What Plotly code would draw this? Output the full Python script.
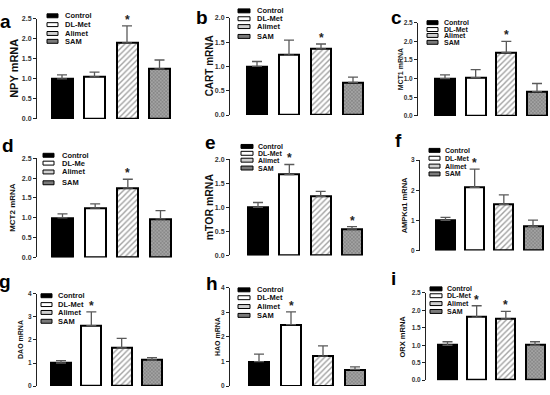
import plotly.graph_objects as go

W, H = 550, 395

groups = ["Control", "DL-Met", "Alimet", "SAM"]
panel_letters = ["a", "b", "c", "d", "e", "f", "g", "h", "i"]
y_titles = ["NPY mRNA", "CART mRNA", "MCT1 mRNA", "MCT2 mRNA", "mTOR mRNA",
            "AMPKα1 mRNA", "DAO mRNA", "HAO mRNA", "ORX mRNA"]

npy_mean = [1.00, 1.05, 1.90, 1.25]
npy_sem = [0.10, 0.12, 0.42, 0.22]
npy_sig = [0, 0, 1, 0]

cart_mean = [1.00, 1.23, 1.36, 0.67]
cart_sem = [0.10, 0.31, 0.10, 0.11]
cart_sig = [0, 0, 1, 0]

mct1_mean = [1.00, 1.03, 1.70, 0.65]
mct1_sem = [0.10, 0.21, 0.30, 0.22]
mct1_sig = [0, 0, 1, 0]

mct2_mean = [1.00, 1.24, 1.75, 0.97]
mct2_sem = [0.10, 0.11, 0.22, 0.21]
mct2_sig = [0, 0, 1, 0]

mtor_mean = [1.00, 1.68, 1.23, 0.55]
mtor_sem = [0.10, 0.21, 0.10, 0.05]
mtor_sig = [0, 1, 0, 1]

ampk_mean = [1.00, 2.10, 1.53, 0.80]
ampk_sem = [0.10, 0.60, 0.32, 0.21]
ampk_sig = [0, 1, 0, 0]

dao_mean = [1.00, 2.62, 1.65, 1.13]
dao_sem = [0.10, 0.60, 0.42, 0.10]
dao_sig = [0, 1, 0, 0]

hao_mean = [1.00, 2.50, 1.22, 0.68]
hao_sem = [0.30, 0.52, 0.42, 0.10]
hao_sig = [0, 1, 0, 0]

orx_mean = [1.00, 1.80, 1.75, 1.00]
orx_sem = [0.10, 0.33, 0.22, 0.10]
orx_sig = [0, 1, 1, 0]

legend_labels = [groups, groups, groups, ["Control", "DL-Me", "Alimet", "SAM"],
                 groups, groups, groups, groups, groups]

y_max = [2.5, 2.0, 2.5, 2.5, 2.0, 3, 4, 4, 2.5]
y_dtick = [0.5, 0.5, 0.5, 0.5, 0.5, 1, 1, 1, 0.5]
y_fmt = [".1f", ".1f", ".1f", ".1f", ".1f", "d", "d", "d", ".1f"]

series = [
    (npy_mean, npy_sem, npy_sig), (cart_mean, cart_sem, cart_sig),
    (mct1_mean, mct1_sem, mct1_sig), (mct2_mean, mct2_sem, mct2_sig),
    (mtor_mean, mtor_sem, mtor_sig), (ampk_mean, ampk_sem, ampk_sig),
    (dao_mean, dao_sem, dao_sig), (hao_mean, hao_sem, hao_sig),
    (orx_mean, orx_sem, orx_sig),
]

# layout geometry in pixels
geo = [
    dict(ax=37, c0=62, c3=159.5, bw=21, y0=117, yt=15, lab_x=14, lab_fs=11, let=(5, 18),
         sw=(47, 58), tx=63, rows=[12, 21, 30, 38], lfs=7.5, tfs=7),
    dict(ax=230, c0=257, c3=353, bw=20, y0=113, yt=14, lab_x=209, lab_fs=10, let=(202, 14),
         sw=(238, 250), tx=255, rows=[7, 15, 23, 33], lfs=7.5, tfs=7),
    dict(ax=418, c0=445, c3=537, bw=20, y0=114, yt=19, lab_x=400, lab_fs=7, let=(396, 14),
         sw=(427, 438), tx=442, rows=[19, 26, 32, 39], lfs=7, tfs=6.5),
    dict(ax=37, c0=62.5, c3=160.5, bw=21, y0=258, yt=157, lab_x=13, lab_fs=8, let=(8, 144),
         sw=(43, 54), tx=60, rows=[154, 162, 171, 182], lfs=7.5, tfs=7),
    dict(ax=230, c0=258, c3=352, bw=20, y0=256, yt=158, lab_x=209, lab_fs=10.5, let=(210, 141),
         sw=(241, 253), tx=256, rows=[145, 152, 159, 167], lfs=7, tfs=7),
    dict(ax=420, c0=445.5, c3=533, bw=19, y0=251, yt=159, lab_x=404, lab_fs=7.5, let=(398, 139),
         sw=(429, 440), tx=443, rows=[149, 157, 165, 173], lfs=7, tfs=6.5),
    dict(ax=37, c0=61, c3=152, bw=20, y0=389, yt=295, lab_x=21, lab_fs=7, let=(5, 282),
         sw=(41, 52), tx=56, rows=[297, 306, 314, 323], lfs=7.5, tfs=6.5),
    dict(ax=230, c0=259, c3=355, bw=20, y0=389, yt=289, lab_x=218, lab_fs=7, let=(212, 285),
         sw=(238, 250), tx=255, rows=[291, 299, 308, 317], lfs=7.5, tfs=6.5),
    dict(ax=426, c0=447.5, c3=535, bw=19, y0=383, yt=294, lab_x=403, lab_fs=7.5, let=(393, 279),
         sw=(430, 442), tx=445, rows=[290, 297, 305, 313], lfs=7, tfs=6.5),
]

bar_colors = ["black", "white", "white", "#a3a3a3"]
pattern_shapes = ["", "", "/", "x"]
pattern_fg = ["black", "white", "#8a8a8a", "#6a6a6a"]
swatch_fill = ["black", "white", "#d0d0d0", "#7a7a7a"]

FONT = "Liberation Sans, Arial, sans-serif"

fig = go.Figure()
shapes = []
annots = []

for i, (g, (mean, sem, sig)) in enumerate(zip(geo, series)):
    sfx = "" if i == 0 else str(i + 1)
    s = (g["c3"] - g["c0"]) / 3.0
    xmin = -(g["c0"] - g["ax"]) / s
    right = min(g["c3"] + 0.5 * s, 549)
    xmax = 3 + (right - g["c3"]) / s
    xs = list(range(len(groups)))
    fig.add_trace(go.Bar(
        x=xs, y=mean, width=g["bw"] / s,
        marker=dict(color=bar_colors, line=dict(color="black", width=2),
                    pattern=dict(shape=pattern_shapes, fgcolor=pattern_fg,
                                 fillmode="overlay", size=[4, 4, 4, 2.5], solidity=0.35)),
        error_y=dict(type="data", array=sem, arrayminus=[0] * len(sem), symmetric=False,
                     color="#5a5a5a", thickness=1.3, width=5),
        xaxis="x" + sfx, yaxis="y" + sfx, showlegend=False,
        hovertext=groups, name=y_titles[i],
    ))
    fig.layout["xaxis" + sfx] = dict(
        domain=[g["ax"] / W, right / W], range=[xmin, xmax], anchor="y" + sfx,
        showticklabels=False, showline=False, ticks="", showgrid=False, zeroline=False)
    fig.layout["yaxis" + sfx] = dict(
        domain=[1 - g["y0"] / H, 1 - g["yt"] / H], range=[0, y_max[i]], anchor="x" + sfx,
        dtick=y_dtick[i], tick0=0, tickformat=y_fmt[i], showline=True, linecolor="#222",
        linewidth=1, ticks="outside", ticklen=3, tickwidth=1, tickcolor="#222",
        tickfont=dict(family=FONT, size=g["tfs"], color="#333", weight="bold"),
        showgrid=False, zeroline=False)

    # stars
    for j in xs:
        if sig[j]:
            annots.append(dict(x=j, y=mean[j] + sem[j], xref="x" + sfx, yref="y" + sfx,
                               text="*", showarrow=False, yanchor="bottom", yshift=-3,
                               font=dict(family=FONT, size=12, color="#222", weight="bold")))
    # y title
    annots.append(dict(x=g["lab_x"] / W, y=1 - (g["y0"] + g["yt"]) / 2 / H, xref="paper", yref="paper",
                       text=y_titles[i], textangle=-90, showarrow=False,
                       xanchor="center", yanchor="middle",
                       font=dict(family=FONT, size=g["lab_fs"], color="#111", weight="bold")))
    # panel letter
    annots.append(dict(x=g["let"][0] / W, y=1 - g["let"][1] / H, xref="paper", yref="paper",
                       text=panel_letters[i], showarrow=False, xanchor="center", yanchor="middle",
                       font=dict(family=FONT, size=19, color="black", weight="bold")))
    # legend
    for k, lab in enumerate(legend_labels[i]):
        ry = g["rows"][k]
        shapes.append(dict(type="rect", xref="paper", yref="paper",
                           x0=g["sw"][0] / W, x1=g["sw"][1] / W,
                           y0=1 - (ry + 2) / H, y1=1 - (ry - 2) / H,
                           fillcolor=swatch_fill[k], line=dict(color="black", width=1)))
        annots.append(dict(x=g["tx"] / W, y=1 - ry / H, xref="paper", yref="paper",
                           text=lab, showarrow=False, xanchor="left", yanchor="middle",
                           font=dict(family=FONT, size=g["lfs"], color="#111", weight="bold")))

fig.update_layout(width=W, height=H, margin=dict(l=0, r=0, t=0, b=0),
                  paper_bgcolor="white", plot_bgcolor="white",
                  shapes=shapes, annotations=annots, bargap=0)

fig.write_html("out.html", config={"displayModeBar": False},
               post_script="document.body.style.margin='0px';document.body.style.padding='0px';document.body.style.overflow='hidden';")
